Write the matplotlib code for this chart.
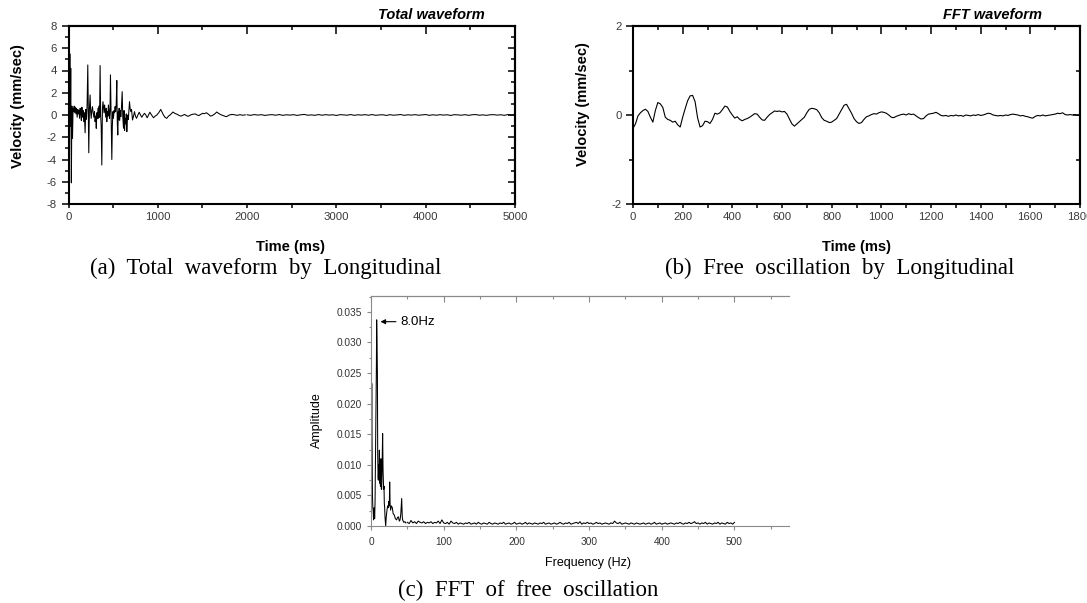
import numpy as np
import matplotlib
matplotlib.use("Agg")
import matplotlib.pyplot as plt
from matplotlib.ticker import MultipleLocator, FormatStrFormatter, NullFormatter

plt.rcParams['font.family'] = ['Liberation Sans', 'DejaVu Sans']
plt.rcParams['axes.unicode_minus'] = False

# ---------------- (a) Total waveform (time ms, velocity mm/sec) ----------------
t_total = [
    0, 5, 10, 15, 20, 25, 32, 38, 45, 51,
    58, 64, 70, 77, 84, 90, 97, 104, 110, 117,
    124, 130, 137, 144, 150, 157, 164, 170, 177, 186,
    193, 201, 208, 216, 222, 227, 234, 242, 248, 254,
    261, 268, 276, 284, 291, 298, 305, 311, 317, 324,
    330, 336, 343, 348, 354, 360, 366, 373, 380, 386,
    391, 398, 404, 410, 417, 423, 429, 435, 441, 447,
    453, 459, 465, 470, 477, 485, 491, 497, 503, 510,
    516, 522, 528, 534, 541, 546, 552, 558, 563, 567,
    573, 580, 586, 593, 601, 608, 616, 622, 628, 634,
    640, 647, 653, 658, 664, 670, 677, 683, 690, 698,
    706, 717, 728, 739, 750, 762, 777, 792, 806, 821,
    836, 851, 866, 881, 896, 911, 930, 952, 970, 989,
    1010, 1033, 1048, 1063, 1080, 1100, 1120, 1138, 1155, 1170,
    1190, 1220, 1240, 1260, 1280, 1300, 1320, 1340, 1360, 1380,
    1400, 1420, 1440, 1460, 1480, 1500, 1520, 1545, 1570, 1590,
    1610, 1630, 1645, 1660, 1680, 1700, 1715, 1730, 1750, 1766,
    1785, 1800, 1830, 1860, 1890, 1920, 1950, 1980,
]
v_total = [
    0.6, 1.5, -0.3, 5.5, -1.0, 4.2, -6.1, 0.8, -2.1, 0.6,
    0.3, 0.8, 0.2, 0.7, 0.1, 0.6, -0.2, 0.5, 0.1, 0.4,
    -0.3, 0.6, 0.2, -0.5, 0.7, -0.2, 0.4, -0.6, 0.2, -1.6,
    0.5, -0.4, 0.8, 4.5, 0.2, -3.4, 0.5, 1.8, 0.3, -0.3,
    0.4, 0.75, 0.2, -0.2, 0.3, -0.6, -0.1, -1.2, 0.2, -0.3,
    0.6, -0.3, 0.8, -0.2, 4.45, 0.0, -1.0, -4.5, 0.6, 1.2,
    0.8, 0.2, 0.9, 0.45, -0.2, 0.6, -0.6, 0.3, -0.1, 0.9,
    0.4, -0.3, 0.5, 3.6, 0.2, -4.0, -1.0, 0.3, -0.3, 0.4,
    0.2, 0.75, 0.3, 0.9, 3.1, -0.6, -1.8, 0.3, -0.4, 0.6,
    -0.5, 0.4, -0.15, 0.7, 2.1, -0.2, -1.2, 0.4, -1.4, -0.3,
    -0.8, 0.1, -1.5, -0.6, 0.0, -0.4, 0.5, 1.2, 0.6, 0.3,
    0.5, -0.45, -0.1, 0.3, -0.1, -0.3, 0.0, 0.25, 0.0, -0.2,
    0.0, 0.15, 0.0, -0.25, 0.0, 0.25, 0.0, -0.25, -0.1, 0.0,
    0.2, 0.5, 0.25, 0.0, -0.2, -0.3, -0.1, 0.0, 0.15, 0.27,
    0.15, 0.05, -0.05, -0.1, -0.02, 0.05, -0.05, -0.12, -0.03, 0.05,
    0.08, 0.1, 0.0, -0.05, 0.05, 0.15, 0.12, 0.2, 0.05, -0.1,
    -0.05, 0.05, 0.15, 0.27, 0.15, 0.05, 0.0, -0.05, -0.1, -0.15,
    -0.08, 0.0, 0.05, 0.02, -0.03, 0.03, -0.02, 0.01,
]
# quiet tail 2000..5000 ms, every 40 ms
t_tail = np.arange(2000, 5001, 40)
v_tail = [
    0.02, -0.03, 0.04, -0.01, 0.03, -0.04, 0.01, 0.03, -0.02, 0.04,
    -0.03, 0.02, -0.01, 0.03, -0.04, 0.02, 0.05, -0.02, 0.01, -0.03,
    0.04, -0.02, 0.03, -0.01, 0.02, -0.04, 0.03, 0.01, -0.02, 0.04,
    -0.03, 0.02, -0.01, 0.03, -0.02, 0.04, -0.03, 0.01, 0.02, -0.04,
    0.03, -0.02, 0.01, 0.04, -0.03, 0.02, -0.01, 0.03, -0.02, 0.01,
    0.04, -0.03, 0.02, -0.02, 0.03, -0.01, 0.02, -0.04, 0.03, 0.01,
    -0.02, 0.03, -0.03, 0.02, 0.04, -0.02, 0.01, -0.03, 0.02, 0.03,
    -0.01, 0.02, -0.03, 0.04, -0.02, 0.01,
]

# ---------------- (b) Free oscillation (FFT waveform), every 10 ms ----------------
t_free = np.arange(0, 1801, 10)
v_free = [
    -0.30, -0.20, -0.02, 0.05, 0.10, 0.13, 0.08, -0.05, -0.16, 0.10,
    0.28, 0.25, 0.17, -0.05, -0.10, -0.12, -0.16, -0.14, -0.22, -0.27,
    -0.05, 0.14, 0.32, 0.43, 0.44, 0.30, -0.06, -0.27, -0.24, -0.14,
    -0.15, -0.19, -0.10, 0.04, 0.02, 0.05, 0.12, 0.20, 0.18, 0.08,
    0.00, -0.07, -0.04, -0.10, -0.13, -0.10, -0.08, -0.05, -0.01, 0.03,
    0.02, -0.05, -0.11, -0.12, -0.05, 0.01, 0.05, 0.09, 0.08, 0.09,
    0.07, 0.08, 0.02, -0.09, -0.20, -0.25, -0.20, -0.15, -0.10, -0.05,
    0.05, 0.13, 0.15, 0.14, 0.12, 0.05, -0.06, -0.12, -0.14, -0.17,
    -0.16, -0.12, -0.08, 0.02, 0.12, 0.22, 0.24, 0.14, 0.04, -0.08,
    -0.15, -0.19, -0.17, -0.10, -0.04, -0.02, 0.01, 0.03, 0.02, 0.05,
    0.07, 0.06, 0.04, 0.00, -0.05, -0.06, -0.03, -0.01, 0.01, 0.02,
    0.00, 0.03, 0.01, 0.02, -0.02, -0.06, -0.09, -0.08, -0.02, 0.02,
    0.03, 0.04, 0.06, 0.03, -0.01, -0.02, -0.01, -0.03, -0.01, -0.02,
    0.00, -0.02, -0.01, -0.03, 0.00, -0.01, -0.02, 0.00, -0.01, 0.01,
    -0.01, 0.00, 0.02, 0.04, 0.03, 0.00, -0.01, -0.02, -0.01, -0.02,
    0.00, -0.01, 0.01, 0.02, 0.01, 0.00, -0.02, -0.01, -0.03, -0.04,
    -0.06, -0.07, -0.03, -0.01, -0.02, 0.00, -0.02, -0.01, 0.00, 0.01,
    0.02, 0.04, 0.03, 0.05, 0.01, 0.00, 0.01, 0.00, 0.01, -0.01,
    0.00,
]

# ---------------- (c) FFT of free oscillation ----------------
f_low = [
    0.0, 1.0, 1.5, 2.0, 2.5, 3.0, 3.5, 4.0, 4.5, 5.0,
    5.6, 6.4, 7.0, 7.4, 7.8, 8.3, 8.8, 9.2, 9.7, 10.1,
    10.6, 11.0, 11.5, 12.0, 12.4, 13.0, 13.75, 14.2, 14.7, 15.3,
    16.0, 16.6, 17.4, 17.9, 18.3, 18.8, 19.25, 20.2, 21.0, 22.0,
    23.0, 23.8, 24.5, 25.2, 25.7, 26.3, 27.0, 28.0, 29.3, 30.5,
    32.0, 33.5, 35.3, 36.5, 37.6, 39.0, 40.0, 41.0, 42.2, 43.0,
    43.6, 45.0, 46.75, 48.0,
]
amp_low = [
    0.0020, 0.0233, 0.0125, 0.0050, 0.0030, 0.0025, 0.0010, 0.0022, 0.0030, 0.0012,
    0.0040, 0.0140, 0.0210, 0.0260, 0.0337, 0.0300, 0.0250, 0.0120, 0.0080, 0.0075,
    0.0100, 0.0085, 0.0124, 0.0070, 0.0086, 0.0065, 0.0110, 0.0060, 0.0060, 0.0100,
    0.0151, 0.0090, 0.0060, 0.0065, 0.0037, 0.0030, 0.0015, 0.0000, 0.0015, 0.0026,
    0.0033, 0.0030, 0.0040, 0.0033, 0.0072, 0.0035, 0.0026, 0.0033, 0.0030, 0.0020,
    0.0018, 0.0012, 0.0010, 0.0014, 0.0015, 0.0008, 0.0010, 0.0020, 0.0045, 0.0015,
    0.0010, 0.0006, 0.0007, 0.0005,
]
f_high = np.arange(50, 500.1, 2.5)
amp_high = [
    0.0006, 0.0004, 0.0009, 0.0005, 0.0007, 0.0004, 0.0008, 0.0006, 0.0005, 0.0007,
    0.0004, 0.0006, 0.0005, 0.0007, 0.0004, 0.0006, 0.0005, 0.0008, 0.0004, 0.0010,
    0.0005,
    0.0004, 0.0006, 0.0003, 0.0008, 0.0005, 0.0004, 0.0006, 0.0003, 0.0005, 0.0004,
    0.0003, 0.0005, 0.0004, 0.0006, 0.0003, 0.0004, 0.0005, 0.0003, 0.0006, 0.0004,
    0.0003, 0.0005, 0.0004, 0.0003, 0.0006, 0.0004, 0.0003, 0.0005, 0.0004, 0.0003,
    0.0005, 0.0004, 0.0006, 0.0003, 0.0004, 0.0005, 0.0003, 0.0004, 0.0006, 0.0003,
    0.0004, 0.0005, 0.0003, 0.0004, 0.0006, 0.0003, 0.0005, 0.0004, 0.0003, 0.0005,
    0.0004, 0.0003, 0.0005, 0.0004, 0.0006, 0.0003, 0.0004, 0.0005, 0.0003, 0.0004,
    0.0005, 0.0003, 0.0004, 0.0006, 0.0004, 0.0003, 0.0005, 0.0004, 0.0006, 0.0003,
    0.0004, 0.0005, 0.0006, 0.0004, 0.0007, 0.0003, 0.0005, 0.0004, 0.0006, 0.0004,
    0.0005, 0.0003, 0.0004, 0.0006, 0.0004, 0.0005, 0.0003, 0.0004, 0.0005, 0.0004,
    0.0003, 0.0005, 0.0004, 0.0008, 0.0005, 0.0004, 0.0006, 0.0003, 0.0004, 0.0005,
    0.0004, 0.0003, 0.0005, 0.0004, 0.0003, 0.0005, 0.0004, 0.0003, 0.0004, 0.0005,
    0.0003, 0.0004, 0.0005, 0.0003, 0.0004, 0.0006, 0.0003, 0.0004, 0.0005, 0.0003,
    0.0004, 0.0005, 0.0003, 0.0004, 0.0005, 0.0004, 0.0003, 0.0005, 0.0004, 0.0006,
    0.0004, 0.0003, 0.0005, 0.0004, 0.0006, 0.0004, 0.0005, 0.0007, 0.0004, 0.0005,
    0.0003, 0.0005, 0.0004, 0.0006, 0.0003, 0.0005, 0.0004, 0.0003, 0.0005, 0.0004,
    0.0006, 0.0003, 0.0005, 0.0004, 0.0003, 0.0006, 0.0004, 0.0005, 0.0003, 0.0006,
]
peak_freq = 8.0
peak_label = "8.0Hz"

# ---------------- figure ----------------
W, H = 1087, 603
fig = plt.figure(figsize=(W / 100, H / 100), dpi=100)


def box(l, t, r, b):
    return [l / W, 1 - b / H, (r - l) / W, (b - t) / H]


def fx(px):
    return px / W


def fy(py):
    return 1 - py / H


def style_wave(ax, xmaj, xmin, ymaj, ymin):
    ax.xaxis.set_major_locator(MultipleLocator(xmaj))
    ax.xaxis.set_minor_locator(MultipleLocator(xmin))
    ax.yaxis.set_major_locator(MultipleLocator(ymaj))
    ax.yaxis.set_minor_locator(MultipleLocator(ymin))
    for s in ax.spines.values():
        s.set_linewidth(1.5)
    ax.tick_params(axis='both', which='both', direction='out', width=1.1,
                   labelsize=8.2, labelcolor='#3a3a3a')
    ax.tick_params(axis='x', which='major', length=3.2, pad=2.5)
    ax.tick_params(axis='x', which='minor', length=3.2)
    ax.tick_params(axis='y', which='major', length=5.2, pad=3)
    ax.tick_params(axis='y', which='minor', length=3.2)
    top = ax.secondary_xaxis('top')
    top.xaxis.set_major_locator(MultipleLocator(xmaj))
    top.xaxis.set_minor_locator(MultipleLocator(xmin))
    top.xaxis.set_major_formatter(NullFormatter())
    top.tick_params(which='both', direction='in', width=1.1)
    top.tick_params(which='major', length=5.5)
    top.tick_params(which='minor', length=3)
    top.spines['top'].set_linewidth(1.5)
    right = ax.secondary_yaxis('right')
    right.yaxis.set_major_locator(MultipleLocator(ymaj))
    right.yaxis.set_minor_locator(MultipleLocator(ymin))
    right.yaxis.set_major_formatter(NullFormatter())
    right.tick_params(which='both', direction='in', width=1.1)
    right.tick_params(which='major', length=5)
    right.tick_params(which='minor', length=3)
    right.spines['right'].set_linewidth(1.5)


# (a)
ax_a = fig.add_axes(box(68.5, 26, 515, 204))
ax_a.plot(t_total, v_total, color='black', lw=0.75)
ax_a.plot(t_tail, v_tail, color='black', lw=0.75)
ax_a.set_xlim(0, 5000)
ax_a.set_ylim(-8, 8)
style_wave(ax_a, 1000, 500, 2, 1)
fig.text(fx(18), fy(106), 'Velocity (mm/sec)', rotation=90, ha='center', va='center',
         fontsize=10.5, fontweight='bold')
fig.text(fx(291), fy(247), 'Time (ms)', ha='center', va='center', fontsize=10.5, fontweight='bold')
fig.text(fx(485), fy(15), 'Total waveform', ha='right', va='center', fontsize=10.5,
         fontweight='bold', style='italic')

# (b)
ax_b = fig.add_axes(box(633, 26, 1080, 204))
ax_b.plot(t_free, v_free, color='black', lw=0.8)
ax_b.set_xlim(0, 1800)
ax_b.set_ylim(-2, 2)
style_wave(ax_b, 200, 100, 2, 1)
fig.text(fx(583), fy(104), 'Velocity (mm/sec)', rotation=90, ha='center', va='center',
         fontsize=10.5, fontweight='bold')
fig.text(fx(857), fy(247), 'Time (ms)', ha='center', va='center', fontsize=10.5, fontweight='bold')
fig.text(fx(1042), fy(15), 'FFT waveform', ha='right', va='center', fontsize=10.5,
         fontweight='bold', style='italic')

# (c)
grey = '#8a8a8a'
ax_c = fig.add_axes(box(371, 296, 789, 526))
ax_c.plot(f_low, amp_low, color='black', lw=0.75)
ax_c.plot(f_high, amp_high, color='black', lw=0.75)
ax_c.set_xlim(0, 575)
ax_c.set_ylim(0, 0.0376)
ax_c.xaxis.set_major_locator(MultipleLocator(100))
ax_c.xaxis.set_minor_locator(MultipleLocator(50))
ax_c.yaxis.set_major_locator(MultipleLocator(0.005))
ax_c.yaxis.set_minor_locator(MultipleLocator(0.0025))
ax_c.yaxis.set_major_formatter(FormatStrFormatter('%.3f'))
ax_c.spines['right'].set_visible(False)
for k in ('left', 'bottom', 'top'):
    ax_c.spines[k].set_color(grey)
    ax_c.spines[k].set_linewidth(0.8)
ax_c.tick_params(axis='both', which='both', direction='out', color=grey, width=0.8,
                 labelsize=7.3, labelcolor='#333333')
ax_c.tick_params(which='major', length=3)
ax_c.tick_params(which='minor', length=1.8)
ax_c.tick_params(axis='x', pad=5)
top_c = ax_c.secondary_xaxis('top')
top_c.xaxis.set_major_locator(MultipleLocator(100))
top_c.xaxis.set_minor_locator(MultipleLocator(50))
top_c.xaxis.set_major_formatter(NullFormatter())
top_c.tick_params(which='both', direction='in', color=grey, width=0.8)
top_c.tick_params(which='major', length=4)
top_c.tick_params(which='minor', length=2.5)
top_c.spines['top'].set_color(grey)
top_c.spines['top'].set_linewidth(0.8)
ax_c.annotate(peak_label, xy=(peak_freq + 5, 0.0334), xytext=(40, 0.0334),
              va='center', ha='left', fontsize=9.5,
              arrowprops=dict(arrowstyle='-|>', color='black', lw=0.8,
                              mutation_scale=7, shrinkA=1, shrinkB=0))
fig.text(fx(317), fy(420), 'Amplitude', rotation=90, ha='center', va='center', fontsize=9)
fig.text(fx(588), fy(563), 'Frequency (Hz)', ha='center', va='center', fontsize=9)

# captions
cap_kw = dict(fontsize=16.5, family=['Liberation Serif', 'DejaVu Serif'], va='center', ha='left')
fig.text(fx(90), fy(268), '(a)  Total  waveform  by  Longitudinal', **cap_kw)
fig.text(fx(665), fy(268), '(b)  Free  oscillation  by  Longitudinal', **cap_kw)
fig.text(fx(398), fy(590), '(c)  FFT  of  free  oscillation', **cap_kw)

fig.savefig('out.png', dpi=100)
